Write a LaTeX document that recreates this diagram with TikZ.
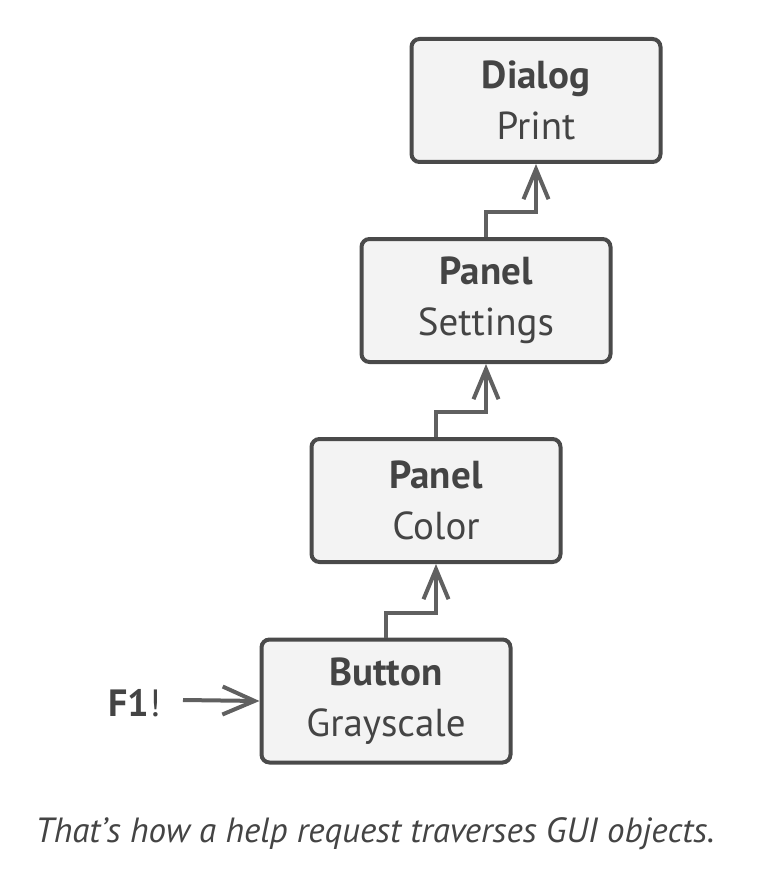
\documentclass[tikz,border=0pt]{standalone}
\usepackage{fontspec}
\setmainfont{PT Sans}
\usetikzlibrary{arrows.meta}
\definecolor{boxline}{HTML}{4A4A4A}
\definecolor{boxfill}{HTML}{F3F3F3}
\definecolor{arrowcol}{HTML}{606060}
\definecolor{txt}{HTML}{444444}
\tikzset{
  objbox/.style={draw=boxline, fill=boxfill, line width=4pt, rounded corners=8pt,
    minimum width=249pt, minimum height=123pt, align=center, text=txt,
    font=\fontsize{39}{51}\selectfont, inner sep=0pt},
  linkarrow/.style={draw=arrowcol, line width=4pt,
    -{Straight Barb[length=30pt,width=25pt,line width=4pt]}},
}
\begin{document}
\begin{tikzpicture}[x=1pt,y=-1pt]
\useasboundingbox (0,0) rectangle (759,893);
\node[objbox] (dialog) at (536,100.5) {\textbf{Dialog}\\Print};
\node[objbox] (settings) at (486,300.5) {\textbf{Panel}\\Settings};
\node[objbox] (color) at (436,500.5) {\textbf{Panel}\\Color};
\node[objbox] (button) at (386,701) {\textbf{Button}\\Grayscale};
\draw[linkarrow] (button.north) -- ++(0,-25) -| (color.south);
\draw[linkarrow] (color.north) -- ++(0,-25) -| (settings.south);
\draw[linkarrow] (settings.north) -- ++(0,-25) -| (dialog.south);
\node[text=txt, font=\fontsize{38}{42}\selectfont, anchor=east, inner sep=0pt] (f1) at (161,703) {\textbf{F1}!};
\coordinate (f1start) at (183,700);
\draw[draw=arrowcol, line width=4pt, -{Straight Barb[length=32pt,width=28pt,line width=4pt]}] (f1start) -- (button.west);
\node[text=txt, font=\fontsize{35}{40}\selectfont\itshape, inner sep=0pt] (caption) at (375,834) {That’s how a help request traverses GUI objects.};
\end{tikzpicture}
\end{document}
